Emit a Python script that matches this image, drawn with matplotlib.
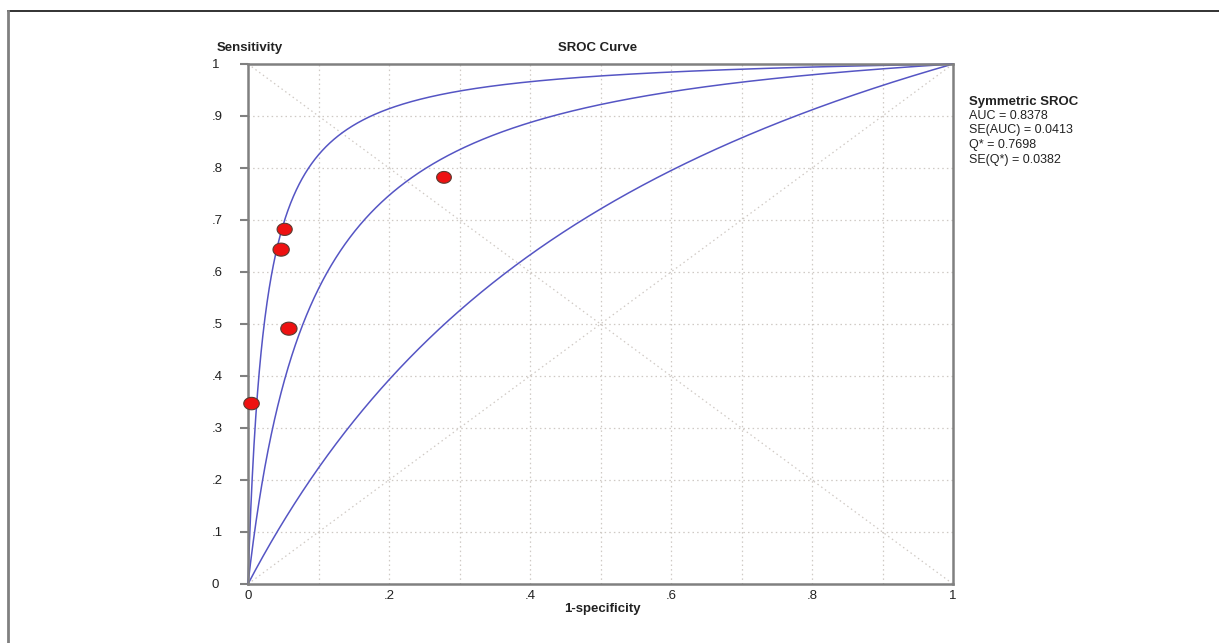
import numpy as np
import matplotlib
matplotlib.use("Agg")
import matplotlib.pyplot as plt
from matplotlib.path import Path
from matplotlib.lines import Line2D

plt.rcParams['font.family'] = ['Liberation Sans', 'DejaVu Sans']

# ---- data ----
fpr_points = [0.005, 0.047, 0.052, 0.058, 0.278]
tpr_points = [0.347, 0.643, 0.682, 0.491, 0.782]
study_weight = [1.0, 1.1, 0.95, 1.1, 0.9]
sroc_log_dor = [3.75, 2.47, 0.95]   # upper, fitted, lower
x_ticks = [0, 0.2, 0.4, 0.6, 0.8, 1.0]
x_tick_labels = ['0', '.2', '.4', '.6', '.8', '1']
y_ticks = [0, 0.1, 0.2, 0.3, 0.4, 0.5, 0.6, 0.7, 0.8, 0.9, 1.0]
y_tick_labels = ['0', '.1', '.2', '.3', '.4', '.5', '.6', '.7', '.8', '.9', '1']
stats_lines = ['AUC = 0.8378', 'SE(AUC) = 0.0413', 'Q* = 0.7698', 'SE(Q*) = 0.0382']

W, H = 1219, 643
fig = plt.figure(figsize=(W / 100, H / 100), dpi=100)
fig.patch.set_facecolor('white')

# outer frame (top and left only)
fig.add_artist(Line2D([7.5 / W, 1.0], [1 - 10.5 / H, 1 - 10.5 / H], color='#222222', lw=1.3,
                      transform=fig.transFigure))
fig.add_artist(Line2D([7.5 / W, 7.5 / W], [0.0, 1 - 10.5 / H], color='#808080', lw=2.0,
                      transform=fig.transFigure))

ax_l, ax_r, ax_t, ax_b = 248, 953, 64, 584
ax = fig.add_axes([ax_l / W, (H - ax_b) / H, (ax_r - ax_l) / W, (ax_b - ax_t) / H])
ax.set_xlim(0, 1)
ax.set_ylim(0, 1)

grid_c = '#cfc9c4'
for v in np.arange(1, 10) / 10:
    ax.axvline(v, color=grid_c, lw=0.9, ls=(0, (1.2, 2.5)), zorder=0)
    ax.axhline(v, color=grid_c, lw=0.9, ls=(0, (1.2, 2.5)), zorder=0)
ax.plot([0, 1], [0, 1], color=grid_c, lw=0.9, ls=(0, (1.2, 2.5)), zorder=0)
ax.plot([0, 1], [1, 0], color=grid_c, lw=0.9, ls=(0, (1.2, 2.5)), zorder=0)

# SROC curves
fx = np.linspace(1e-5, 1 - 1e-9, 2000)
for d in sroc_log_dor:
    ty = 1 / (1 + np.exp(-(d + np.log(fx / (1 - fx)))))
    ax.plot(np.r_[0, fx, 1], np.r_[0, ty, 1], color='#5555c4', lw=1.1, zorder=2, clip_on=False)

# ellipse marker
th = np.linspace(0, 2 * np.pi, 60)
ell = Path(np.column_stack([np.cos(th), 0.8 * np.sin(th)]), closed=True)
sizes = [125 * w for w in study_weight]
ax.scatter(fpr_points, tpr_points, s=sizes, marker=ell, facecolor='#ee1111',
           edgecolor='#5a3a30', linewidth=0.8, zorder=4, clip_on=False)

# spines
for sp in ax.spines.values():
    sp.set_color('#808080')
    sp.set_linewidth(1.8)

ax.set_xticks(x_ticks)
ax.set_xticklabels(x_tick_labels)
ax.set_yticks(y_ticks)
ax.set_yticklabels(y_tick_labels)
ax.tick_params(axis='x', length=0, pad=4, labelsize=9.5, labelcolor='#222222')
ax.tick_params(axis='y', length=5.8, width=1.5, color='#808080', pad=20.2,
               labelsize=9.5, labelcolor='#222222')
for lab in ax.get_yticklabels():
    lab.set_horizontalalignment('left')

def px(x, y):
    return x / W, 1 - y / H

fig.text(*px(217, 48), 'Sensitivity', fontsize=9.5, fontweight='bold', ha='left', va='center',
         color='#222222')
fig.text(*px(598, 48), 'SROC Curve', fontsize=9.5, fontweight='bold', ha='center', va='center',
         color='#222222')
fig.text(*px(602, 609), '1-specificity', fontsize=9.5, fontweight='bold', ha='center',
         va='center', color='#222222')
fig.text(*px(969, 101.5), 'Symmetric SROC', fontsize=9.5, fontweight='bold', ha='left',
         va='center', color='#222222')
for i, s in enumerate(stats_lines):
    fig.text(*px(969, 115.8 + 14.6 * i), s, fontsize=9, ha='left', va='center', color='#222222')

fig.savefig('out.png', dpi=100, facecolor='white')
